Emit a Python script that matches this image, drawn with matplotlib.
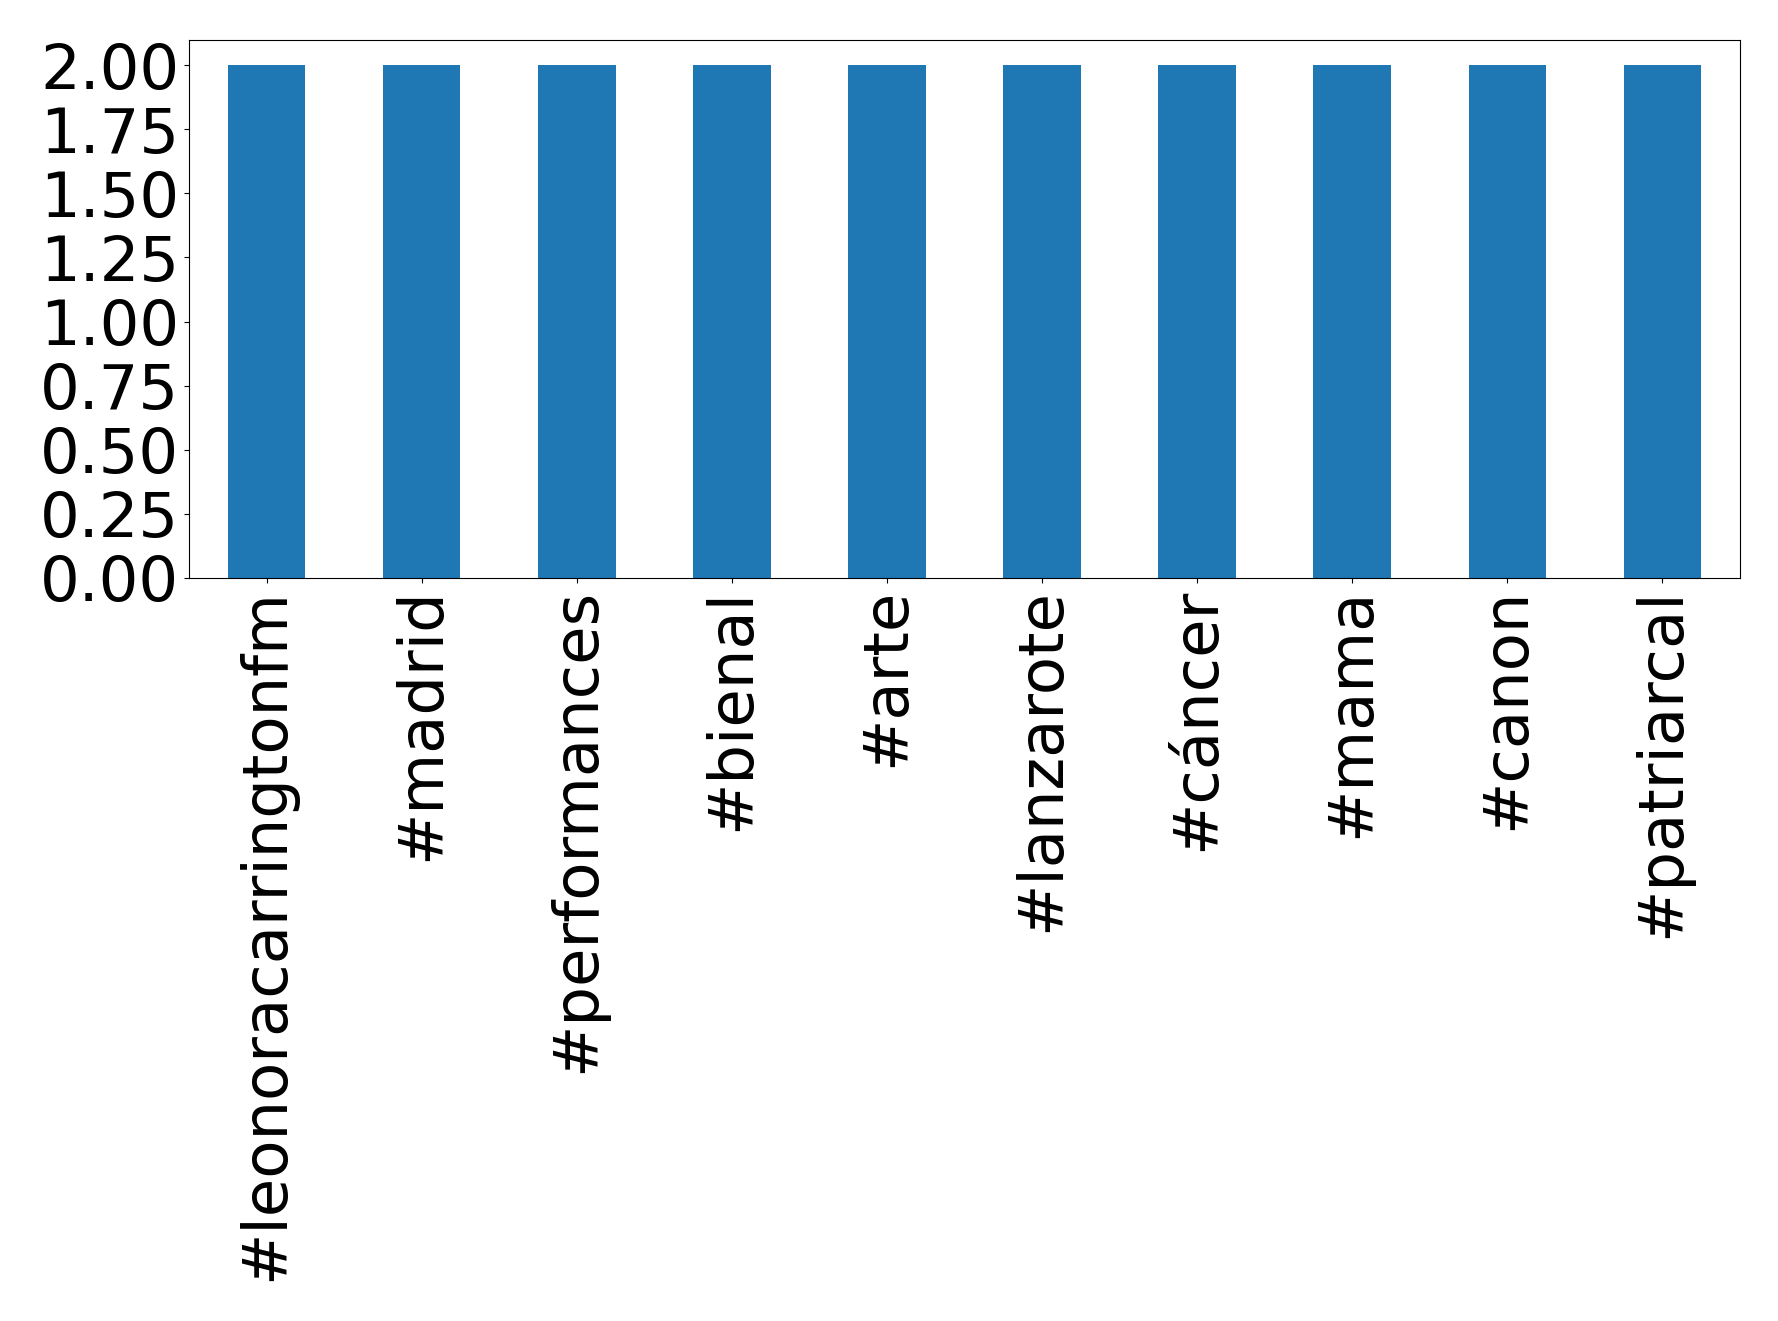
import matplotlib
matplotlib.use("Agg")
import matplotlib.pyplot as plt
from matplotlib.ticker import MultipleLocator, FormatStrFormatter
import pandas as pd

categories = ["#leonoracarringtonfm", "#madrid", "#performances", "#bienal", "#arte",
              "#lanzarote", "#cáncer", "#mama", "#canon", "#patriarcal"]
values = [2, 2, 2, 2, 2, 2, 2, 2, 2, 2]

s = pd.Series(values, index=categories)
fig = plt.figure(figsize=(17.78, 13.21), dpi=100)
ax = fig.add_axes([189/1778, 1 - 578/1321, (1740-189)/1778, (578-39.5)/1321])
s.plot(kind="bar", ax=ax, color="#1f77b4", fontsize=45)
ax.yaxis.set_major_locator(MultipleLocator(0.25))
ax.yaxis.set_major_formatter(FormatStrFormatter("%.2f"))
ax.set_ylim(0, 2.1)
ax.tick_params(axis="x", labelsize=45, rotation=90)
ax.tick_params(axis="y", labelsize=45)
fig.savefig("out.png", dpi=100)
